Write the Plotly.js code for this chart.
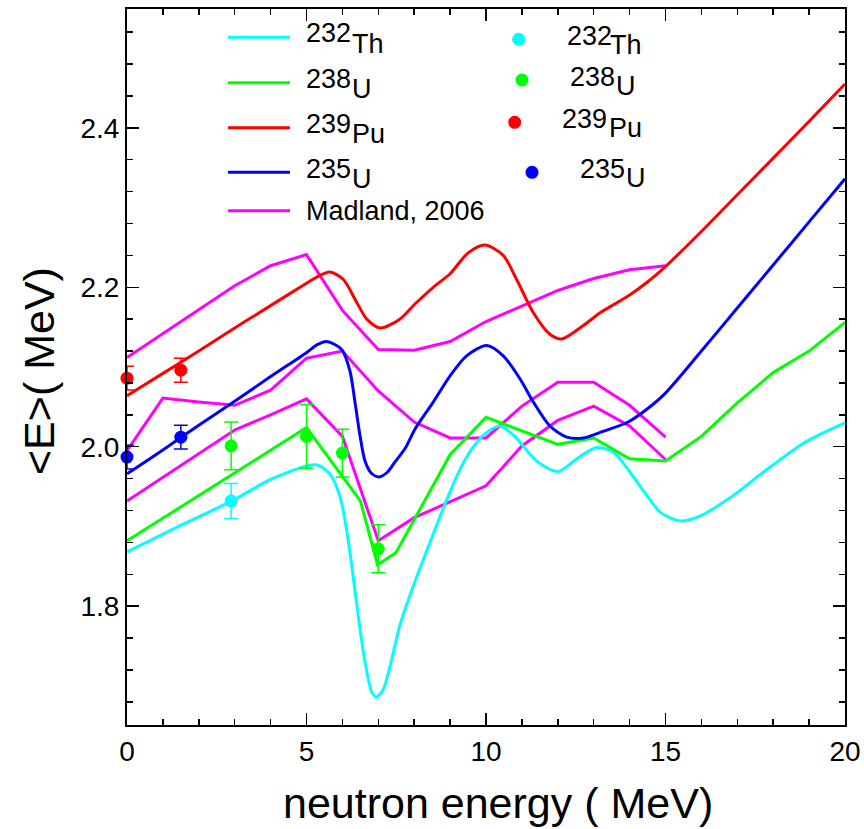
<!DOCTYPE html>
<html><head><meta charset="utf-8">
<script src="https://cdn.plot.ly/plotly-3.0.1.min.js"></script>
<style>html,body{margin:0;padding:0;background:#fff}</style>
</head><body><div id="chart" style="width:864px;height:829px"></div>
<script>
// ---- calculated curves ----
const thX = [0, 1.48, 2.92, 4, 5, 5.3, 5.65, 5.93, 6.12, 6.26, 6.44, 6.63, 6.82, 6.95, 7.14, 7.33, 7.6, 7.98, 8.44, 8.91, 9.28, 9.6, 10.02, 10.39, 10.8, 11.2, 11.5, 12.01, 12.53, 13.08, 13.55, 14.01, 14.48, 14.85, 15.4, 15.96, 16.89, 17.78, 18.9, 20];
const thY = [1.868, 1.901, 1.932, 1.959, 1.976, 1.977, 1.966, 1.938, 1.895, 1.851, 1.788, 1.730, 1.692, 1.686, 1.696, 1.725, 1.776, 1.826, 1.880, 1.934, 1.972, 1.997, 2.018, 2.026, 2.013, 1.992, 1.979, 1.969, 1.985, 1.999, 1.993, 1.968, 1.939, 1.918, 1.907, 1.913, 1.939, 1.970, 2.006, 2.030];

const u8X = [0, 5, 6.5, 6.98, 7.49, 9, 10, 12, 13, 14, 15, 16, 17, 18, 19, 20];
const u8Y = [1.882, 2.024, 1.932, 1.852, 1.867, 1.990, 2.037, 2.003, 2.011, 1.985, 1.982, 2.013, 2.055, 2.093, 2.120, 2.156];

const puX = [0, 1, 2, 3, 4, 5, 5.3, 5.65, 6.02, 6.4, 6.68, 7.05, 7.6, 8.02, 8.53, 9.0, 9.5, 9.97, 10.48, 10.85, 11.32, 11.78, 12.1, 12.71, 13.18, 13.96, 14.48, 15, 16, 17, 18, 19, 20];
const puY = [2.064, 2.092, 2.120, 2.149, 2.177, 2.205, 2.213, 2.219, 2.210, 2.181, 2.160, 2.149, 2.160, 2.179, 2.200, 2.217, 2.243, 2.253, 2.240, 2.210, 2.168, 2.141, 2.135, 2.152, 2.168, 2.189, 2.206, 2.226, 2.270, 2.316, 2.362, 2.408, 2.455];

const u5X = [0, 1, 2, 3, 4, 5, 5.3, 5.56, 5.98, 6.21, 6.35, 6.49, 6.63, 6.8, 7.02, 7.25, 7.45, 7.75, 8.02, 8.53, 9.0, 9.46, 10.02, 10.48, 10.95, 11.32, 11.78, 12.25, 12.71, 13.18, 13.96, 14.48, 14.97, 16, 17, 18, 19, 20];
const u5Y = [1.966, 1.996, 2.027, 2.057, 2.088, 2.118, 2.128, 2.132, 2.122, 2.095, 2.056, 2.014, 1.982, 1.967, 1.962, 1.968, 1.980, 1.998, 2.022, 2.056, 2.089, 2.114, 2.127, 2.114, 2.085, 2.056, 2.026, 2.012, 2.011, 2.018, 2.031, 2.047, 2.066, 2.120, 2.174, 2.228, 2.282, 2.336];

// ---- Madland, 2006 ----
const madX = [0, 1, 2, 3, 4, 5, 6, 7, 8, 9, 10, 11, 12, 13, 14, 15];
const madPuY = [2.112, 2.142, 2.172, 2.202, 2.227, 2.241, 2.171, 2.122, 2.121, 2.132, 2.157, 2.177, 2.196, 2.211, 2.222, 2.227];
const madU5Y = [1.995, 2.061, 2.056, 2.052, 2.071, 2.111, 2.120, 2.070, 2.031, 2.011, 2.011, 2.051, 2.081, 2.081, 2.052, 2.012];
const madU8Y = [1.932, 1.962, 1.992, 2.021, 2.040, 2.060, 2.013, 1.882, 1.911, 1.931, 1.951, 2.001, 2.033, 2.051, 2.026, 1.984];

// ---- experimental points ----
const expThX = [2.9], expThY = [1.932], expThE = [0.022];
const expU8X = [2.9, 5, 6, 7], expU8Y = [2.001, 2.013, 1.992, 1.872], expU8E = [0.03, 0.04, 0.03, 0.03];
const expPuX = [0, 1.5], expPuY = [2.086, 2.096], expPuE = [0.015, 0.015];
const expU5X = [0, 1.5], expU5Y = [1.987, 2.012], expU5E = [0.015, 0.015];

const CYAN = '#00FFFF', GREEN = '#00FF00', RED = '#FF0000', BLUE = '#0000FF', MAG = '#FF00FF';
const FONT = 'Liberation Sans, Arial, sans-serif';

function curve(x, y, color, spline) {
  return {x: x, y: y, mode: 'lines', type: 'scatter', showlegend: false, hoverinfo: 'skip',
    line: {color: color, width: 3, shape: spline ? 'spline' : 'linear', smoothing: 0.8}};
}
function pts(x, y, e, color) {
  return {x: x, y: y, mode: 'markers', type: 'scatter', showlegend: false, cliponaxis: false,
    marker: {color: color, size: 13},
    error_y: {type: 'data', array: e, visible: true, color: color, thickness: 1.5, width: 7}};
}

const data = [
  curve(madX, madPuY, MAG, false),
  curve(madX, madU5Y, MAG, false),
  curve(madX, madU8Y, MAG, false),
  curve(thX, thY, CYAN, true),
  curve(u8X, u8Y, GREEN, false),
  curve(puX, puY, RED, true),
  curve(u5X, u5Y, BLUE, true),
  pts(expThX, expThY, expThE, CYAN),
  pts(expU8X, expU8Y, expU8E, GREEN),
  pts(expPuX, expPuY, expPuE, RED),
  pts(expU5X, expU5Y, expU5E, BLUE)
];

// layout geometry (pixels)
const L = 127, R = 845, T = 9, B = 725;
const PX = p => (p - L) / (R - L);
const PY = p => (B - p) / (B - T);

const shapes = [];
const annotations = [];
const FS = 27;
function txt(s, px, baseline, size, extra) {
  const a = Object.assign({text: s, xref: 'paper', yref: 'paper', x: PX(px), y: PY(baseline - 0.3465 * size),
    xanchor: 'left', yanchor: 'middle', showarrow: false, borderpad: 0,
    font: {family: FONT, size: size, color: '#000'}}, extra || {});
  annotations.push(a);
}
// legend: lines
const legLines = [
  {c: CYAN, y: 37.3, num: '232', el: 'Th', nb: 42.7},
  {c: GREEN, y: 82.7, num: '238', el: 'U', nb: 88.3},
  {c: RED, y: 127.7, num: '239', el: 'Pu', nb: 133.3},
  {c: BLUE, y: 172.3, num: '235', el: 'U', nb: 178.3}
];
legLines.forEach(o => {
  shapes.push({type: 'line', xref: 'paper', yref: 'paper', x0: PX(228), x1: PX(290), y0: PY(o.y), y1: PY(o.y),
    line: {color: o.c, width: 3}});
  txt(o.num, 305, o.nb, FS);
  txt(o.el, 351, o.nb + 10.3, FS);
});
shapes.push({type: 'line', xref: 'paper', yref: 'paper', x0: PX(228), x1: PX(290), y0: PY(210.7), y1: PY(210.7),
  line: {color: MAG, width: 3}});
txt('Madland, 2006', 305, 220.7, FS);

// legend: markers
const legPts = [
  {c: CYAN, cx: 518.7, cy: 39.3, num: '232', el: 'Th', nx: 566, ex: 609, nb: 45},
  {c: GREEN, cx: 522, cy: 80, num: '238', el: 'U', nx: 569, ex: 615, nb: 86},
  {c: RED, cx: 514.7, cy: 122.3, num: '239', el: 'Pu', nx: 561, ex: 607.5, nb: 128.3},
  {c: BLUE, cx: 532, cy: 172.3, num: '235', el: 'U', nx: 579, ex: 625, nb: 178.3}
];
legPts.forEach(o => {
  shapes.push({type: 'circle', xref: 'paper', yref: 'paper', xsizemode: 'pixel', ysizemode: 'pixel',
    xanchor: PX(o.cx), yanchor: PY(o.cy), x0: -6.5, x1: 6.5, y0: -6.5, y1: 6.5,
    fillcolor: o.c, line: {width: 0}});
  txt(o.num, o.nx, o.nb, FS);
  txt(o.el, o.ex, o.nb + 9.5, FS);
});

// axis titles
annotations.push({text: 'neutron energy ( MeV)', xref: 'paper', yref: 'paper', x: PX(498), y: PY(818 - 0.3465 * 43),
  xanchor: 'center', yanchor: 'middle', showarrow: false, borderpad: 0, font: {family: FONT, size: 43, color: '#000'}});
annotations.push({text: '&lt;E&gt;( MeV)', xref: 'paper', yref: 'paper', x: PX(39), y: PY(371),
  xanchor: 'center', yanchor: 'middle', textangle: -90, showarrow: false, borderpad: 0,
  font: {family: FONT, size: 43, color: '#000'}});

const axisCommon = {
  showgrid: false, zeroline: false, showline: true, linecolor: '#000', linewidth: 2, mirror: 'ticks',
  ticks: 'inside', ticklen: 12, tickwidth: 1.5, tickcolor: '#000',
  tickfont: {family: FONT, size: 28, color: '#000'}
};

const layout = {
  width: 864, height: 829,
  margin: {l: L, r: 864 - R, t: T, b: 829 - B, pad: 0},
  paper_bgcolor: '#fff', plot_bgcolor: '#fff',
  showlegend: false,
  xaxis: Object.assign({}, axisCommon, {range: [0, 20], dtick: 5, tick0: 0,
    minor: {ticks: 'inside', ticklen: 6, tickwidth: 1.5, tickcolor: '#000', dtick: 1, tick0: 0, showgrid: false}}),
  yaxis: Object.assign({}, axisCommon, {range: [1.651, 2.549], dtick: 0.2, tick0: 1.8, tickformat: '.1f',
    minor: {ticks: 'inside', ticklen: 6, tickwidth: 1.5, tickcolor: '#000', dtick: 0.04, tick0: 1.8, showgrid: false}}),
  shapes: shapes,
  annotations: annotations
};

Plotly.newPlot('chart', data, layout, {displayModeBar: false, staticPlot: true});
</script></body></html>
